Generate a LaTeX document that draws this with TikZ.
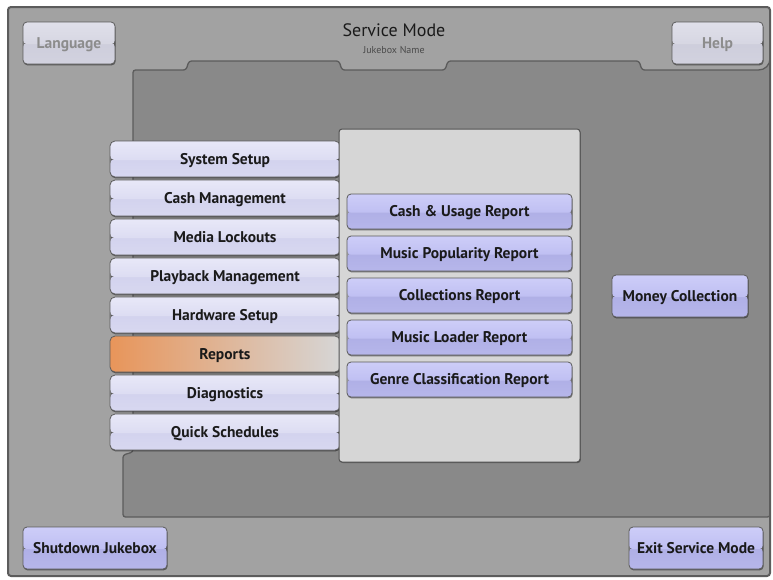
\documentclass[tikz,border=0pt]{standalone}
\usepackage{fontspec}
\setmainfont{PT Sans}
\usetikzlibrary{shadows}
\definecolor{outerbg}{HTML}{A2A2A2}
\definecolor{darkbg}{HTML}{898989}
\definecolor{edge}{HTML}{5C5C5C}
\definecolor{panelbg}{HTML}{D6D6D6}
\definecolor{txt}{HTML}{1A1A1A}
\definecolor{dimtxt}{HTML}{8C8C8C}
\definecolor{mA}{HTML}{E8E8F8}
\definecolor{mB}{HTML}{DCDCF2}
\definecolor{mC}{HTML}{CDCDEC}
\definecolor{mD}{HTML}{D8D8F0}
\definecolor{rA}{HTML}{CDCDF8}
\definecolor{rB}{HTML}{BFBFF2}
\definecolor{rC}{HTML}{A9A9E2}
\definecolor{rD}{HTML}{B6B6EA}
\definecolor{gA}{HTML}{E0E0EA}
\definecolor{gB}{HTML}{D6D6E2}
\definecolor{gC}{HTML}{C9C9D8}
\definecolor{gD}{HTML}{D2D2DF}
\definecolor{orng}{HTML}{E8955A}
\newcommand{\btnfont}{\fontsize{15.5}{18}\selectfont\bfseries}
\tikzset{
  gloss/.style n args={4}{path picture={
    \shade[top color=#3, bottom color=#4] (path picture bounding box.west) rectangle (path picture bounding box.south east);
    \shade[top color=#1, bottom color=#2] (path picture bounding box.north west) rectangle ([yshift=-1.2pt]path picture bounding box.east);}},
  btnbase/.style={draw=edge, line width=0.8pt, rounded corners=4pt, inner sep=0pt, font=\btnfont, text=txt,
    text height=10.6pt, text depth=0pt,
    drop shadow={shadow xshift=0.6pt, shadow yshift=-1.4pt, fill=black, opacity=0.45}},
  menubtn/.style={btnbase, rounded corners=5pt, minimum width=230pt, minimum height=36pt, gloss={mA}{mB}{mC}{mD}},
  repbtn/.style={btnbase, minimum width=225pt, minimum height=35pt, gloss={rA}{rB}{rC}{rD}},
  actbtn/.style={btnbase, minimum height=42pt, gloss={rA}{rB}{rC}{rD}},
  dimbtn/.style={btnbase, minimum height=42pt, text=dimtxt, gloss={gA}{gB}{gC}{gD}},
}
\begin{document}
\begin{tikzpicture}[x=1pt,y=-1pt]
\path[use as bounding box, fill=white] (0,0) rectangle (773,579);
% outer panel
\path[fill=outerbg, rounded corners=3pt] (8,7) rectangle (770,576);
% dark work area
\path[fill=darkbg, draw=edge, line width=1.3pt, rounded corners=2.5pt]
  (123,517) -- (123,455) -- (133,452) -- (133,70) -- (186,70) -- (189,61) -- (339,61) -- (342,70)
  -- (445,70) -- (448,61) -- (639,61) -- (642,70) -- (756,70)
  .. controls (765,70) and (770,65) .. (770,56) -- (770,517) -- cycle;
% outer border
\path[draw=edge, line width=2pt, rounded corners=3pt] (8,7) rectangle (770,576);
% title
\node[font=\fontsize{18}{20}\selectfont, text=txt] (title) at (394,30) {Service Mode};
\node[font=\fontsize{10}{11}\selectfont, text=edge!80!black] (jname) at (394,50) {Jukebox Name};
% top buttons
\node[dimbtn, minimum width=92pt] (lang) at (69,43) {Language};
\node[dimbtn, minimum width=91pt] (help) at (717.5,43) {Help};
% left menu
\node[menubtn] (m1) at (225,159) {System Setup};
\node[menubtn] (m2) at (225,198) {Cash Management};
\node[menubtn] (m3) at (225,237) {Media Lockouts};
\node[menubtn] (m4) at (225,276) {Playback Management};
\node[menubtn] (m5) at (225,315) {Hardware Setup};
\node[btnbase, rounded corners=5pt, minimum width=230pt, minimum height=36pt, left color=orng, right color=panelbg] (m6) at (225,354) {Reports};
\node[menubtn] (m7) at (225,393) {Diagnostics};
\node[menubtn] (m8) at (225,432) {Quick Schedules};
% center panel
\node[draw=edge!90!black, line width=1pt, fill=panelbg, rounded corners=3pt, minimum width=241pt, minimum height=333pt, inner sep=0pt,
  drop shadow={shadow xshift=0.8pt, shadow yshift=-1pt, fill=black, opacity=0.35}] (panel) at (459.5,295.5) {};
% report buttons
\node[repbtn] (r1) at (459.5,211.5) {Cash \& Usage Report};
\node[repbtn] (r2) at (459.5,253.5) {Music Popularity Report};
\node[repbtn] (r3) at (459.5,295.5) {Collections Report};
\node[repbtn] (r4) at (459.5,337.5) {Music Loader Report};
\node[repbtn] (r5) at (459.5,379.5) {Genre Classification Report};
% action buttons
\node[actbtn, minimum width=136pt] (money) at (680,296) {Money Collection};
\node[actbtn, minimum width=144pt] (shut) at (95,548) {Shutdown Jukebox};
\node[actbtn, minimum width=134pt] (exit) at (696,548) {Exit Service Mode};
\end{tikzpicture}
\end{document}
